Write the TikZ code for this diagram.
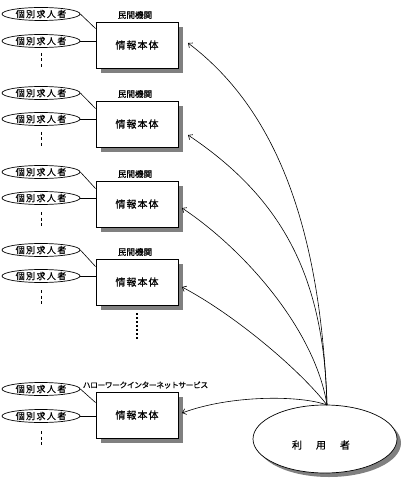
\documentclass[tikz,border=0pt]{standalone}
\usepackage{fontspec}
\newfontfamily\jp[FakeBold=0.6]{Noto Sans CJK JP}
\usetikzlibrary{shapes.geometric,arrows.meta,shadows}
\newcommand{\cb}[2]{\makebox[#1]{#2}}
\newcommand{\kojin}{\cb{10.4pt}{個}\cb{10.4pt}{別}\cb{10.4pt}{求}\cb{10.4pt}{人}\cb{10.4pt}{者}}
\newcommand{\honbun}{\cb{11pt}{情}\cb{11pt}{報}\cb{11pt}{本}\cb{11pt}{体}}
\newcommand{\minkan}{\cb{8.6pt}{民}\cb{8.6pt}{間}\cb{8.6pt}{機}\cb{8.6pt}{関}}
\newcommand{\kk}[1]{\cb{7.35pt}{#1}}
\newcommand{\hellowork}{\kk{ハ}\kk{ロ}\kk{ー}\kk{ワ}\kk{ー}\kk{ク}\kk{イ}\kk{ン}\kk{タ}\kk{ー}\kk{ネ}\kk{ッ}\kk{ト}\kk{サ}\kk{ー}\kk{ビ}\kk{ス}}
\begin{document}
\begin{tikzpicture}[x=1pt,y=-1pt,
  person/.style={draw, ellipse, line width=0.7pt, minimum width=78pt, minimum height=13pt, inner sep=0pt, font=\jp\fontsize{9}{10}\selectfont},
  bodybox/.style={draw, fill=white, line width=0.8pt, minimum width=82pt, minimum height=46pt, inner sep=0pt,
    drop shadow={shadow xshift=5pt, shadow yshift=-5pt, opacity=1, fill=black!50},
    font=\jp\fontsize{10}{11}\selectfont},
  orglabel/.style={font=\jp\fontsize{8.6}{9}\selectfont, inner sep=0pt},
  kanalabel/.style={font=\jp\fontsize{7.8}{8}\selectfont, inner sep=0pt},
  link/.style={line width=0.6pt},
  more/.style={line width=0.8pt, dash pattern=on 3pt off 2.5pt},
  access/.style={line width=0.6pt, -{Straight Barb[length=3.5pt,width=6pt]}},
]
\useasboundingbox (0,0) rectangle (405,486);

% group 1
\node[bodybox] (b1) at (137,45) {\honbun};
\node[orglabel] (l1) at (135,15) {\minkan};
\node[person] (p1a) at (41,14) {\kojin};
\node[person] (p1b) at (41,41) {\kojin};
\draw[link] (p1a.east) -- ([yshift=-7pt]b1.north west);
\draw[link] (p1b.east) -- (p1b.east -| b1.west);
\coordinate (d1) at (41,53);
\draw[more] (d1) -- ++(0,14);

% group 2
\node[bodybox] (b2) at (137,124) {\honbun};
\node[orglabel] (l2) at (135,94) {\minkan};
\node[person] (p2a) at (41,93) {\kojin};
\node[person] (p2b) at (41,119) {\kojin};
\draw[link] (p2a.east) -- ([yshift=-8pt]b2.north west);
\draw[link] (p2b.east) -- (p2b.east -| b2.west);
\coordinate (d2) at (41,132);
\draw[more] (d2) -- ++(0,14);

% group 3
\node[bodybox] (b3) at (137,204) {\honbun};
\node[orglabel] (l3) at (135,174) {\minkan};
\node[person] (p3a) at (41,172) {\kojin};
\node[person] (p3b) at (41,198) {\kojin};
\draw[link] (p3a.east) -- ([yshift=-8pt]b3.north west);
\draw[link] (p3b.east) -- (p3b.east -| b3.west);
\coordinate (d3) at (41,212);
\draw[more] (d3) -- ++(0,14);

% group 4
\node[bodybox] (b4) at (137,282) {\honbun};
\node[orglabel] (l4) at (135,252) {\minkan};
\node[person] (p4a) at (41,250) {\kojin};
\node[person] (p4b) at (41,276) {\kojin};
\draw[link] (p4a.east) -- ([yshift=-8pt]b4.north west);
\draw[link] (p4b.east) -- (p4b.east -| b4.west);
\coordinate (d4) at (41,290);
\draw[more] (d4) -- ++(0,14);
\coordinate (dots) at (137,313);
\draw[line width=1.6pt, dash pattern=on 2pt off 2pt] (dots) -- ++(0,26);

% group 5
\node[bodybox] (b5) at (137,415) {\honbun};
\node[kanalabel] (l5) at (145.5,385) {\hellowork};
\node[person] (p5a) at (41,389) {\kojin};
\node[person] (p5b) at (41,416) {\kojin};
\draw[link] (p5a.east) -- ([yshift=-11pt]b5.north west);
\draw[link] (p5b.east) -- (p5b.east -| b5.west);
\coordinate (d5) at (41,431);
\draw[more] (d5) -- ++(0,14);

% user
\node[draw, ellipse, line width=0.7pt, fill=white, minimum width=144pt, minimum height=68pt, inner sep=0pt,
  drop shadow={shadow xshift=4pt, shadow yshift=-4pt, opacity=1, fill=black!50},
  label={[xshift=-4pt,yshift=-6pt,font=\jp\fontsize{10}{11}\selectfont]center:利\kern14pt 用\kern14pt 者}] (user) at (325,439) {};
\coordinate (src) at (327,405);

\coordinate (e1) at (188,43);
\coordinate (e2) at (188,135);
\coordinate (e3) at (182,208);
\coordinate (e4) at (182,287);
\coordinate (e5) at (182,413);
\draw[access] (src) .. controls (320,215) and (270,105) .. (e1);
\draw[access] (src) .. controls (324,280) and (285,200) .. (e2);
\draw[access] (src) .. controls (315,330) and (245,250) .. (e3);
\draw[access] (src) .. controls (300,370) and (235,315) .. (e4);
\draw[access] (src) .. controls (300,395) and (230,395) .. (e5);
\end{tikzpicture}
\end{document}
